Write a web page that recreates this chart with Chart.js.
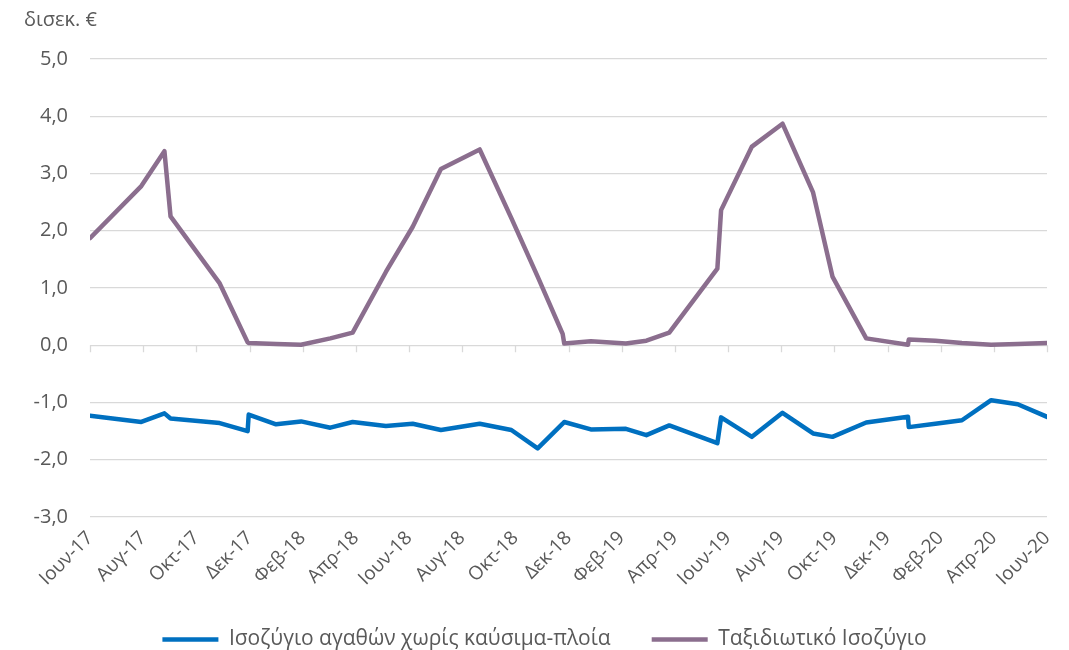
<!DOCTYPE html>
<html>
<head>
<meta charset="utf-8">
<script src="https://cdn.jsdelivr.net/npm/chart.js@4/dist/chart.umd.min.js"></script>
<style>
  html, body { margin: 0; padding: 0; background: #fff; }
  #wrap { width: 1069px; height: 650px; }
</style>
</head>
<body>
<div id="wrap"><canvas id="mycanvas"></canvas></div>
<script>
// x labels, one every 2 months
var tickLabels = ['Ιουν-17','Αυγ-17','Οκτ-17','Δεκ-17','Φεβ-18','Απρ-18','Ιουν-18','Αυγ-18','Οκτ-18',
  'Δεκ-18','Φεβ-19','Απρ-19','Ιουν-19','Αυγ-19','Οκτ-19','Δεκ-19','Φεβ-20','Απρ-20','Ιουν-20'];

// observation dates, in months after Ιουν-17
var monthPos = [0.00, 1.93, 2.80, 3.03, 4.88, 5.93, 5.97, 7.00, 7.94, 9.04, 9.88, 11.13, 12.14, 13.20,
  14.66, 15.85, 16.84, 17.78, 17.84, 18.84, 20.16, 20.93, 21.79, 23.60, 23.74, 24.90, 26.05, 27.20,
  27.93, 29.20, 30.77, 30.80, 31.80, 32.80, 33.90, 34.90, 36.00];

var goodsBalance = [-1.23, -1.34, -1.19, -1.28, -1.36, -1.50, -1.21, -1.38, -1.33, -1.44, -1.34, -1.41,
  -1.37, -1.48, -1.37, -1.48, -1.80, -1.37, -1.34, -1.47, -1.46, -1.57, -1.40, -1.71, -1.26, -1.60,
  -1.18, -1.54, -1.60, -1.35, -1.25, -1.43, -1.37, -1.31, -0.96, -1.03, -1.25];

var travelBalance = [1.87, 2.78, 3.39, 2.25, 1.08, 0.05, 0.04, 0.02, 0.01, 0.12, 0.22, 1.28, 2.07, 3.08,
  3.42, 2.22, 1.20, 0.20, 0.03, 0.07, 0.03, 0.08, 0.22, 1.34, 2.36, 3.47, 3.87, 2.67, 1.20, 0.12,
  0.01, 0.10, 0.08, 0.04, 0.01, 0.02, 0.04];

function toPoints(vals) {
  var pts = [];
  for (var i in vals) {
    pts.push({x: monthPos[i], y: vals[i]});
  }
  return pts;
}

var fontName = "'Open Sans', sans-serif";
var textColor = '#595959';
var gridColor = '#d9d9d9';

// small tick marks hanging from the zero line, like the excel original
var zeroTicks = {
  id: 'zeroTicks',
  afterLayout: function(chart) {
    // legend sits a bit right of centre in the original
    chart.legend.left += 9;
    chart.legend.right += 9;
  },
  beforeDatasetsDraw: function(chart) {
    var xs = chart.scales.x, ys = chart.scales.y;
    var y0 = ys.getPixelForValue(0);
    var c = chart.ctx;
    c.save();
    c.strokeStyle = gridColor;
    c.lineWidth = 1.3;
    xs.ticks.forEach(function(t) {
      var px = Math.round(xs.getPixelForValue(t.value)) + 0.5;
      c.beginPath();
      c.moveTo(px, y0);
      c.lineTo(px, y0 + 7);
      c.stroke();
    });
    c.restore();
  }
};

var chartdata = {
  datasets: [
    {
      label: 'Ισοζύγιο αγαθών χωρίς καύσιμα-πλοία',
      data: toPoints(goodsBalance),
      borderColor: '#0070c0',
      backgroundColor: '#0070c0',
      borderWidth: 4.5,
      borderCapStyle: 'round',
      borderJoinStyle: 'round',
      pointRadius: 0,
      tension: 0
    },
    {
      label: 'Ταξιδιωτικό Ισοζύγιο',
      data: toPoints(travelBalance),
      borderColor: '#8b6e8e',
      backgroundColor: '#8b6e8e',
      borderWidth: 4.5,
      borderCapStyle: 'round',
      borderJoinStyle: 'round',
      pointRadius: 0,
      tension: 0
    }
  ]
};

var ctx = document.getElementById('mycanvas');

var lineGraph = new Chart(ctx, {
  type: 'line',
  data: chartdata,
  plugins: [zeroTicks],
  options: {
    responsive: true,
    maintainAspectRatio: false,
    animation: false,
    layout: { padding: { left: 24, right: 22, top: 8, bottom: -10 } },
    plugins: {
      tooltip: { enabled: false },
      title: {
        display: true,
        text: 'δισεκ. €',
        align: 'start',
        color: textColor,
        font: { family: fontName, size: 20, weight: 'normal' },
        padding: { top: 0, bottom: 27 }
      },
      legend: {
        position: 'bottom',
        labels: {
          usePointStyle: true,
          pointStyle: 'line',
          pointStyleWidth: 56,
          color: '#595959',
          font: { family: fontName, size: 21 },
          padding: 41
        }
      }
    },
    scales: {
      x: {
        type: 'linear',
        min: 0,
        max: 36,
        grid: { display: false },
        border: { display: false },
        afterFit: function(scale) { scale.height = 71; },
        ticks: {
          stepSize: 2,
          autoSkip: false,
          maxRotation: 45,
          minRotation: 45,
          padding: 2,
          color: textColor,
          font: { family: fontName, size: 19 },
          callback: function(value) { return tickLabels[value / 2]; }
        }
      },
      y: {
        min: -3,
        max: 5,
        grid: { color: gridColor, lineWidth: 1.3, drawTicks: false },
        border: { display: false },
        afterFit: function(scale) { scale.width = 66; },
        ticks: {
          stepSize: 1,
          padding: 22,
          color: textColor,
          font: { family: fontName, size: 20 },
          callback: function(value) { return value.toFixed(1).replace('.', ','); }
        }
      }
    }
  }
});
</script>
</body>
</html>
